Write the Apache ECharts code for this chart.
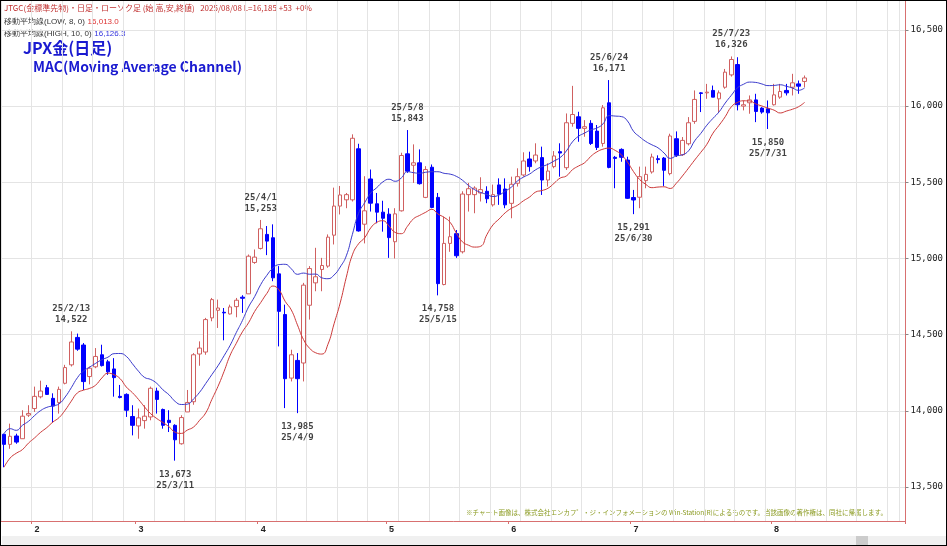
<!DOCTYPE html>
<html><head><meta charset="utf-8">
<script src="https://cdn.jsdelivr.net/npm/echarts@6/dist/echarts.min.js"></script>
<style>html,body{margin:0;padding:0;background:#fff}#c{width:947px;height:546px;box-sizing:border-box;border:1px solid #000}</style>
</head><body><div id="c"></div>
<script>
// [open, close, low, high]
const candles = [
[13846,13780,13630,13850],[13780,13833,13751,13916],[13835,13795,13784,13850],[13817,13965,13817,14004],
[13972,13983,13960,14037],[14015,14095,13993,14159],[14092,14130,14082,14198],[14152,14108,14104,14170],
[14082,14031,13923,14115],[14055,14141,13982,14159],[14181,14284,14174,14302],[14302,14452,14291,14522],
[14482,14405,14394,14507],[14432,14192,14137,14445],[14225,14280,14174,14291],[14289,14357,14280,14412],
[14368,14297,14291,14434],[14322,14256,14236,14335],[14275,14218,14093,14346],[14095,14088,14082,14170],
[14108,14004,13960,14115],[13963,13905,13839,14037],[13901,13954,13817,14015],[13936,13965,13883,14037],
[13960,14148,13938,14159],[14130,14075,13982,14152],[14009,13905,13883,14015],[13938,13923,13861,14004],
[13905,13810,13673,13912],[13784,13956,13778,13971],[13993,14055,13993,14137],[14060,14368,14040,14379],
[14373,14412,14296,14456],[14386,14599,14368,14610],[14610,14730,14588,14741],[14660,14675,14544,14730],
[14647,14643,14463,14675],[14636,14682,14632,14697],[14684,14726,14614,14741],[14746,14739,14643,14759],
[14768,15015,14768,15026],[14974,15009,14965,15059],[15066,15195,15059,15253],[15158,15114,15022,15213],
[15136,14873,14851,15224],[14899,14653,14423,14950],[14632,14211,14018,14697],[14215,14368,14193,14401],
[14331,14211,13985,14379],[14314,14825,14193,14840],[14693,14934,14599,14950],[14840,14880,14785,15070],
[14928,14954,14785,15004],[14950,15140,14939,15158],[15153,15344,15092,15465],[15344,15417,15289,15476],
[15385,15419,15330,15430],[15385,15789,15374,15815],[15720,15181,15176,15753],[15225,15313,15099,15540],
[15522,15363,15308,15584],[15359,15304,15231,15430],[15304,15264,15176,15379],[15291,15137,15004,15330],
[15110,15293,15000,15330],[15313,15676,15308,15694],[15687,15573,15562,15843],[15612,15628,15496,15749],
[15628,15491,15485,15716],[15401,15584,15396,15606],[15599,15335,15330,15617],[15401,14835,14758,15430],
[14829,15099,14824,15275],[15099,15143,15044,15275],[15163,15018,15004,15187],[15044,15423,15033,15441],
[15419,15458,15308,15496],[15419,15462,15297,15474],[15430,15452,15374,15533],[15441,15392,15363,15474],
[15352,15419,15341,15485],
[15483,15422,15352,15526],[15456,15352,15330,15526],[15362,15487,15264,15537],[15494,15537,15472,15592],
[15548,15640,15537,15697],[15653,15603,15570,15701],[15640,15679,15625,15756],[15662,15515,15417,15734],
[15515,15574,15472,15625],[15603,15673,15592,15705],[15701,15692,15537,15756],[15596,15891,15581,15952],
[15887,15945,15865,16133],[15930,15854,15766,15963],[15854,15865,15799,15908],[15887,15755,15745,15908],
[15836,15729,15712,15876],[15755,15989,15734,16007],[16022,15598,15592,16171],[15664,15657,15461,15673],
[15716,15664,15635,15723],[15646,15395,15391,15668],[15400,15384,15291,15450],[15402,15537,15330,15603],
[15511,15552,15461,15603],
[15568,15666,15557,15688],[15655,15649,15624,15677],[15659,15579,15476,15666],[15557,15804,15546,15819],
[15786,15677,15666,15834],[15681,15775,15673,15797],[15753,15891,15742,15928],[15900,16044,15884,16103],
[16087,16083,15961,16092],[16087,16092,16048,16146],[16103,16059,16059,16135],[16048,16087,15961,16103],
[16124,16223,16114,16244],[16205,16306,16194,16326],[16273,16009,15972,16321],[16000,16009,15972,16037],
[16022,16041,15950,16070],[16041,15965,15895,16081],[15987,15961,15950,15993],[15983,15956,15850,16037],
[16009,16074,16004,16146],[16059,16096,16048,16146],[16103,16087,16070,16146],[16124,16153,16070,16212],
[16146,16131,16081,16168],[16162,16185,16124,16201]
];
const blankSlots = 16;
const monthIdx = [5,22,42,63,83,103,126];
const monthLabels = ['2','3','4','5','6','7','8'];
const yTicks = [13500,14000,14500,15000,15500,16000,16500];
const annoValues = [14522,13673,15253,13985,15843,14758,16171,15291,16326,15850];
const annoKinds  = ['high','low','high','low','high','low','high','low','high','low'];
const annoDates  = ['25/2/13','25/3/11','25/4/1','25/4/9','25/5/8','25/5/15','25/6/24','25/6/30','25/7/23','25/7/31'];
const lastPrice = 16185;

const N = candles.length + blankSlots;
const cats = Array.from({length:N},(_,i)=>String(i));
function ma(arr, n){
  return arr.map((_,i)=>{const s=Math.max(0,i-n+1);let t=0;for(let k=s;k<=i;k++)t+=arr[k];return +(t/(i-s+1)).toFixed(1);});
}
const highs = candles.map(c=>c[3]), lows = candles.map(c=>c[2]);
const maHigh = ma(highs,10), maLow = ma(lows,8);
const fmt = v=>v.toLocaleString('en-US');
const annoSeries = annoValues.map((v,j)=>{
  const isHigh = annoKinds[j]==='high';
  const idx = candles.findIndex(c=>c[isHigh?3:2]===v);
  const txt = isHigh ? annoDates[j]+'\n'+fmt(v) : fmt(v)+'\n'+annoDates[j];
  return {value:[idx,v],label:{show:true,formatter:txt,position:isHigh?'top':'bottom',distance:isHigh?5:7}};
});
const chart = echarts.init(document.getElementById('c'));
chart.setOption({
  animation:false,
  backgroundColor:'#fff',
  grid:{left:0,right:39,top:0,bottom:24},
  xAxis:{type:'category',data:cats,boundaryGap:true,
    axisLine:{lineStyle:{color:'#d87070'}},
    axisTick:{show:true,inside:false,length:3,lineStyle:{color:'#d87070'},interval:(i)=>monthIdx.includes(i)},
    axisLabel:{interval:0,formatter:(v,i)=>{const k=monthIdx.indexOf(i);return k>=0?monthLabels[k]:'';},color:'#222',fontSize:9,fontWeight:'bold',margin:4,align:'left'},
    splitLine:{show:true,interval:4,lineStyle:{color:'#e4e4e4'}}},
  yAxis:{type:'value',position:'right',min:13277,max:16690,scale:true,
    axisLine:{show:true,lineStyle:{color:'#d87070'}},
    axisTick:{show:true,length:3,lineStyle:{color:'#888'},customValues:yTicks},
    axisLabel:{color:'#222',fontSize:9,margin:5,customValues:yTicks,formatter:v=>fmt(v),fontFamily:'DejaVu Sans Mono, monospace'},
    splitLine:{show:true,lineStyle:{color:'#e4e4e4'}}},
  series:[
    {type:'candlestick',data:candles,barWidth:4,
      itemStyle:{color:'#ffffff',color0:'#0000ff',borderColor:'#d06060',borderColor0:'#0000ff',borderColorDoji:'#0000ff',borderWidth:1},
      markLine:{symbol:'none',silent:true,data:[{yAxis:lastPrice}],lineStyle:{opacity:0},
        label:{show:true,position:'end',formatter:fmt(lastPrice),backgroundColor:'#ee1111',color:'#fff',fontSize:9,padding:[1,2],distance:2}}},
    {type:'line',data:maHigh,showSymbol:false,smooth:true,lineStyle:{color:'#3a3acc',width:1}},
    {type:'line',data:maLow,showSymbol:false,smooth:true,lineStyle:{color:'#cc3a3a',width:1}},
    {type:'scatter',data:annoSeries,symbolSize:2,itemStyle:{color:'rgba(0,0,0,0)'},silent:true,z:10,
      label:{show:true,color:'#111',fontSize:9,lineHeight:11,fontWeight:'bold',fontFamily:'DejaVu Sans Mono, monospace'},
      labelLayout:{hideOverlap:false}}
  ],
  graphic:[
    {type:'text',left:3,top:3,style:{text:'JTGC(金標準先物)・日足・ローソク足 (始,高,安,終値)   2025/08/08 L=16,185 +53  +0%',fill:'#c03030',fontSize:8,fontFamily:'Noto Sans CJK JP'}},
    {type:'text',left:3,top:15,style:{rich:{a:{fill:'#333',fontSize:8},b:{fill:'#dd3333',fontSize:8}},text:'{a|移動平均線(LOW, 8, 0)} {b|16,013.0}',fontFamily:'Noto Sans CJK JP'}},
    {type:'text',left:3,top:27,style:{rich:{a:{fill:'#333',fontSize:8},b:{fill:'#3333dd',fontSize:8}},text:'{a|移動平均線(HIGH, 10, 0)} {b|16,126.3}',fontFamily:'Noto Sans CJK JP'}},
    {type:'text',left:22,top:39,style:{text:'JPX金(日足)',fill:'#1a1ad0',fontSize:16,fontWeight:'bold',fontFamily:'Noto Sans CJK JP'}},
    {type:'text',left:32,top:59,style:{text:'MAC(Moving Average Channel)',fill:'#1a1ad0',fontSize:14,fontWeight:'bold',fontFamily:'Noto Sans CJK JP'}},
    {type:'text',left:465,top:508,style:{text:'※チャート画像は、株式会社エンカフ゜・ジ・インフォメーションの Win-Station(R)によるものです。当該画像の著作権は、同社に帰属します。',fill:'#8a9a20',fontSize:6.5,fontFamily:'Noto Sans CJK JP'}},
    {type:'rect',left:1,top:535,shape:{width:944,height:10},style:{fill:'#f0f0f0'}},
    {type:'rect',left:855,top:535,shape:{width:12,height:10},style:{fill:'#cccccc'}}
  ]
});
</script></body></html>
